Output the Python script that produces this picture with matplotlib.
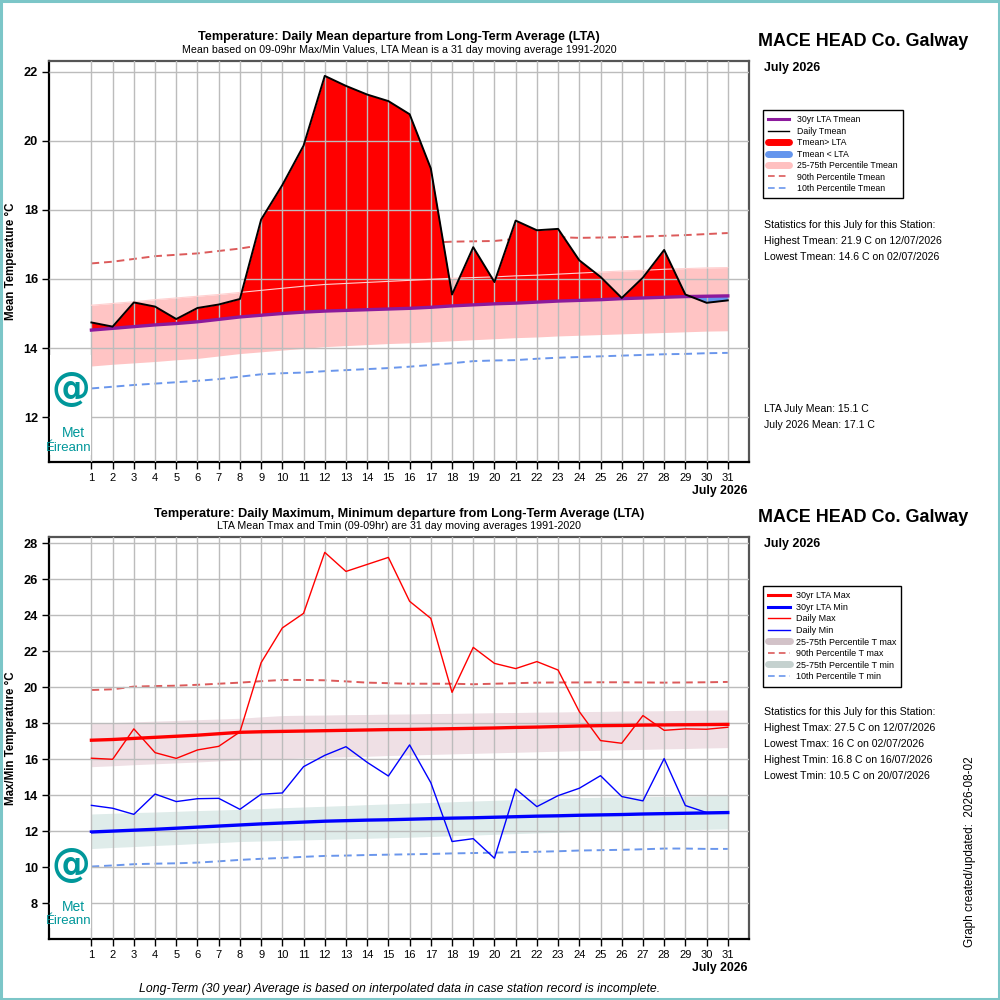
import matplotlib
matplotlib.use("Agg")
import matplotlib.pyplot as plt
from matplotlib.lines import Line2D
from matplotlib.patches import Rectangle
import numpy as np

plt.rcParams['font.family'] = ['Liberation Sans', 'DejaVu Sans']

days = list(range(1, 32))

# ---- Top chart data ----
tmean = [14.74, 14.62, 15.32, 15.20, 14.84, 15.16, 15.26, 15.42, 17.72, 18.72, 19.86, 21.88, 21.59, 21.34, 21.15, 20.77,
         19.20, 15.55, 16.92, 15.91, 17.69, 17.41, 17.45, 16.54, 16.06, 15.45, 16.04, 16.84, 15.55, 15.31, 15.38]
lta_mean = [14.52, 14.57, 14.62, 14.67, 14.71, 14.76, 14.83, 14.90, 14.95, 15.00, 15.04, 15.07, 15.09, 15.11, 15.13, 15.15,
            15.18, 15.22, 15.25, 15.28, 15.30, 15.33, 15.36, 15.38, 15.40, 15.43, 15.45, 15.47, 15.49, 15.50, 15.51]
p25_mean = [13.48, 13.53, 13.57, 13.61, 13.66, 13.70, 13.77, 13.84, 13.89, 13.94, 13.99, 14.04, 14.07, 14.10, 14.13, 14.15,
            14.18, 14.21, 14.24, 14.27, 14.30, 14.32, 14.35, 14.37, 14.39, 14.41, 14.43, 14.45, 14.47, 14.49, 14.50]
p75_mean = [15.24, 15.29, 15.34, 15.40, 15.45, 15.50, 15.55, 15.61, 15.67, 15.73, 15.79, 15.84, 15.87, 15.90, 15.93, 15.96,
            15.99, 16.02, 16.04, 16.06, 16.09, 16.11, 16.14, 16.17, 16.20, 16.23, 16.25, 16.28, 16.30, 16.32, 16.33]
p90_mean = [16.45, 16.50, 16.58, 16.66, 16.70, 16.74, 16.81, 16.88, 16.98, 17.05, 17.08, 17.07, 17.05, 17.04, 17.03, 17.03,
            17.05, 17.08, 17.09, 17.10, 17.16, 17.22, 17.21, 17.19, 17.20, 17.21, 17.23, 17.25, 17.27, 17.30, 17.33]
p10_mean = [12.83, 12.88, 12.93, 12.97, 13.01, 13.05, 13.10, 13.17, 13.24, 13.27, 13.29, 13.33, 13.36, 13.39, 13.42, 13.46,
            13.51, 13.56, 13.62, 13.64, 13.65, 13.69, 13.72, 13.74, 13.76, 13.78, 13.80, 13.82, 13.83, 13.85, 13.86]

# ---- Bottom chart data ----
tmax = [16.06, 16.00, 17.69, 16.37, 16.05, 16.52, 16.72, 17.52, 21.37, 23.30, 24.11, 27.50, 26.44, 26.83, 27.22, 24.78,
        23.83, 19.72, 22.22, 21.33, 21.04, 21.43, 20.96, 18.65, 17.04, 16.89, 18.43, 17.61, 17.69, 17.67, 17.78]
tmin = [13.44, 13.28, 12.94, 14.07, 13.65, 13.81, 13.83, 13.22, 14.06, 14.13, 15.59, 16.22, 16.70, 15.83, 15.07, 16.80,
        14.70, 11.43, 11.59, 10.50, 14.35, 13.37, 13.98, 14.39, 15.09, 13.93, 13.69, 16.04, 13.43, 13.04, 13.00]
lta_max = [17.06, 17.10, 17.16, 17.22, 17.28, 17.34, 17.42, 17.50, 17.53, 17.55, 17.57, 17.59, 17.61, 17.63, 17.65, 17.66,
           17.68, 17.70, 17.72, 17.74, 17.77, 17.79, 17.82, 17.85, 17.87, 17.88, 17.90, 17.91, 17.92, 17.93, 17.94]
lta_min = [11.96, 12.01, 12.06, 12.11, 12.17, 12.23, 12.29, 12.35, 12.41, 12.46, 12.51, 12.56, 12.59, 12.62, 12.64, 12.67,
           12.70, 12.73, 12.75, 12.78, 12.81, 12.84, 12.86, 12.89, 12.91, 12.93, 12.96, 12.98, 13.00, 13.02, 13.04]
p75_max = [18.00, 18.04, 18.08, 18.12, 18.16, 18.20, 18.24, 18.28, 18.36, 18.43, 18.45, 18.46, 18.48, 18.49, 18.51, 18.52,
           18.54, 18.55, 18.57, 18.59, 18.60, 18.62, 18.63, 18.65, 18.66, 18.68, 18.69, 18.70, 18.72, 18.73, 18.74]
p25_max = [15.59, 15.64, 15.70, 15.75, 15.80, 15.85, 15.91, 15.96, 16.00, 16.03, 16.07, 16.10, 16.14, 16.17, 16.21, 16.24,
           16.27, 16.30, 16.33, 16.36, 16.39, 16.42, 16.45, 16.48, 16.50, 16.53, 16.55, 16.58, 16.60, 16.63, 16.65]
p75_min = [12.96, 13.00, 13.04, 13.07, 13.11, 13.15, 13.18, 13.22, 13.26, 13.31, 13.35, 13.39, 13.43, 13.48, 13.52, 13.56,
           13.60, 13.64, 13.68, 13.72, 13.76, 13.80, 13.83, 13.87, 13.89, 13.90, 13.92, 13.94, 13.95, 13.97, 13.98]
p25_min = [11.04, 11.10, 11.15, 11.21, 11.26, 11.32, 11.37, 11.43, 11.46, 11.49, 11.52, 11.55, 11.58, 11.61, 11.64, 11.67,
           11.71, 11.75, 11.79, 11.83, 11.87, 11.91, 11.94, 11.98, 12.00, 12.02, 12.04, 12.07, 12.09, 12.11, 12.13]
p90_max = [19.85, 19.89, 20.04, 20.07, 20.09, 20.14, 20.20, 20.26, 20.34, 20.41, 20.41, 20.39, 20.33, 20.26, 20.23, 20.20,
           20.20, 20.20, 20.17, 20.20, 20.23, 20.26, 20.27, 20.27, 20.28, 20.28, 20.27, 20.26, 20.27, 20.28, 20.30]
p10_min = [10.04, 10.10, 10.17, 10.20, 10.22, 10.26, 10.33, 10.41, 10.47, 10.52, 10.58, 10.63, 10.65, 10.68, 10.70, 10.72,
           10.74, 10.77, 10.79, 10.81, 10.84, 10.86, 10.89, 10.93, 10.95, 10.97, 11.00, 11.04, 11.04, 11.02, 11.02]

station = "MACE HEAD Co. Galway"
month_label = "July 2026"
top_stats = ["Statistics for this July for this Station:",
             "Highest Tmean: 21.9 C on 12/07/2026",
             "Lowest Tmean: 14.6 C on 02/07/2026"]
top_means = ["LTA July Mean: 15.1 C", "July 2026 Mean: 17.1 C"]
bot_stats = ["Statistics for this July for this Station:",
             "Highest Tmax: 27.5 C on 12/07/2026",
             "Lowest Tmax: 16 C on 02/07/2026",
             "Highest Tmin: 16.8 C on 16/07/2026",
             "Lowest Tmin: 10.5 C on 20/07/2026"]

TEAL = '#00979a'
GRID = '#bcbcbc'
DASH_RED = '#dc5a5a'
DASH_BLUE = '#6a96ec'
PURPLE = '#8c1a9c'

fig = plt.figure(figsize=(10, 10), dpi=100)
W = H = 1000.0


def fx(px):
    return px / W


def fy(py):
    return 1 - py / H


def style_axes(ax, ylim, yticks):
    ax.set_xlim(-1, 32)
    ax.set_ylim(*ylim)
    ax.set_xticks(days)
    ax.set_xticklabels([str(d) for d in days], fontsize=8)
    ax.set_yticks(yticks)
    ax.set_yticklabels([str(t) for t in yticks], fontsize=9.2, fontweight='bold')
    ax.grid(True, color=GRID, lw=1.0, zorder=2.5)
    ax.set_axisbelow(False)
    for gl in ax.get_xgridlines() + ax.get_ygridlines():
        gl.set_zorder(2.5)
    ax.tick_params(axis='both', direction='out', length=5, width=1, colors='black', pad=3)
    for s in ['left', 'bottom']:
        ax.spines[s].set_color('black')
        ax.spines[s].set_linewidth(1.6)
    for s in ['top', 'right']:
        ax.spines[s].set_color('#555555')
        ax.spines[s].set_linewidth(1.6)


def add_logo(y_top_px, y_bot_px):
    lax = fig.add_axes([fx(50), fy(y_bot_px), fx(41), (y_bot_px - y_top_px) / H])
    lax.set_facecolor('white')
    lax.set_xticks([])
    lax.set_yticks([])
    for s in lax.spines.values():
        s.set_visible(False)
    lax.text(0.5, 0.66, "@", color=TEAL, fontsize=28, fontweight='bold', ha='center', va='center',
             transform=lax.transAxes, family='DejaVu Sans')
    lax.text(0.58, 0.22, "Met", color=TEAL, fontsize=10, ha='center', va='center',
             transform=lax.transAxes)
    lax.text(0.45, 0.07, "Éireann", color=TEAL, fontsize=9.5, ha='center', va='center',
             transform=lax.transAxes)


# ===================== TOP CHART =====================
ax1 = fig.add_axes([fx(49), fy(462), fx(700), (462 - 60.7) / H])
ax1.fill_between(days, p25_mean, p75_mean, color='#ffc4c4', lw=0, zorder=1)
ax1.plot(days, p90_mean, color=DASH_RED, lw=1.4, ls=(0, (4, 2.5)), zorder=1.5)
ax1.plot(days, p10_mean, color=DASH_BLUE, lw=1.4, ls=(0, (4, 2.5)), zorder=1.5)
tm = np.array(tmean)
lt = np.array(lta_mean)
ax1.fill_between(days, lt, tm, where=tm >= lt, interpolate=True, color='#ff0000', lw=0, zorder=2)
ax1.fill_between(days, lt, tm, where=tm < lt, interpolate=True, color='#6495ed', lw=0, zorder=2)
ax1.plot(days, p75_mean, color='#ffd0d0', lw=0.8, zorder=2.6)
ax1.plot(days, lta_mean, color=PURPLE, lw=2.4, zorder=3)
ax1.plot(days, tmean, color='black', lw=1.4, zorder=3.2)
style_axes(ax1, (10.7, 22.32), list(range(12, 23, 2)))
ax1.set_ylabel("Mean Temperature °C", fontsize=8.3, fontweight='bold')
ax1.yaxis.set_label_coords(-0.046, 0.5)

fig.text(fx(399), fy(37), "Temperature: Daily Mean departure from Long-Term Average (LTA)",
         ha='center', va='center', fontsize=9.2, fontweight='bold')
fig.text(fx(399), fy(50), "Mean based on 09-09hr Max/Min Values, LTA Mean is a 31 day moving average 1991-2020",
         ha='center', va='center', fontsize=7.7)
fig.text(fx(748), fy(491), month_label, ha='right', va='center', fontsize=8.8, fontweight='bold')

add_logo(355, 455)

fig.text(fx(758), fy(42), station, ha='left', va='center', fontsize=12.9, fontweight='bold')
fig.text(fx(764), fy(68), month_label, ha='left', va='center', fontsize=9, fontweight='bold')

h_top = [
    Line2D([], [], color=PURPLE, lw=2.2),
    Line2D([], [], color='black', lw=1),
    Line2D([], [], color='#ff0000', lw=5, solid_capstyle='round'),
    Line2D([], [], color='#6495ed', lw=5, solid_capstyle='round'),
    Line2D([], [], color='#ffc0c0', lw=5, solid_capstyle='round'),
    Line2D([], [], color=DASH_RED, lw=1.2, ls=(0, (4, 2.5))),
    Line2D([], [], color=DASH_BLUE, lw=1.2, ls=(0, (4, 2.5))),
]
l_top = ["30yr LTA Tmean", "Daily Tmean", "Tmean> LTA", "Tmean < LTA", "25-75th Percentile Tmean",
         "90th Percentile Tmean", "10th Percentile Tmean"]
leg1 = fig.legend(h_top, l_top, loc='upper left', bbox_to_anchor=(fx(763), fy(110)),
                  fontsize=6.3, frameon=True, fancybox=False, edgecolor='black', framealpha=1,
                  handlelength=2.4, handletextpad=0.9, labelspacing=0.28, borderpad=0.6, borderaxespad=0)
leg1.get_frame().set_linewidth(1.0)

for i, s in enumerate(top_stats):
    fig.text(fx(764), fy(225 + 16 * i), s, ha='left', va='center', fontsize=7.6)
for i, s in enumerate(top_means):
    fig.text(fx(764), fy(409 + 16 * i), s, ha='left', va='center', fontsize=7.6)

# ===================== BOTTOM CHART =====================
ax2 = fig.add_axes([fx(49), fy(938.7), fx(700), (938.7 - 536.7) / H])
ax2.fill_between(days, p25_max, p75_max, color='#efe0e5', lw=0, zorder=1)
ax2.fill_between(days, p25_min, p75_min, color='#dfecea', lw=0, zorder=1)
ax2.plot(days, p90_max, color=DASH_RED, lw=1.4, ls=(0, (4, 2.5)), zorder=1.5)
ax2.plot(days, p10_min, color=DASH_BLUE, lw=1.4, ls=(0, (4, 2.5)), zorder=1.5)
ax2.plot(days, lta_max, color='#ff0000', lw=2.4, zorder=3)
ax2.plot(days, lta_min, color='#0000ff', lw=2.4, zorder=3)
ax2.plot(days, tmax, color='#ff0000', lw=1.0, zorder=3.2)
ax2.plot(days, tmin, color='#0000ff', lw=1.0, zorder=3.2)
style_axes(ax2, (6.03, 28.37), list(range(8, 29, 2)))
ax2.set_ylabel("Max/Min Temperature °C", fontsize=8.3, fontweight='bold')
ax2.yaxis.set_label_coords(-0.046, 0.5)

fig.text(fx(399), fy(514), "Temperature: Daily Maximum, Minimum departure from Long-Term Average (LTA)",
         ha='center', va='center', fontsize=9.2, fontweight='bold')
fig.text(fx(399), fy(526), "LTA Mean Tmax and Tmin (09-09hr) are 31 day moving averages 1991-2020",
         ha='center', va='center', fontsize=7.7)
fig.text(fx(748), fy(968), month_label, ha='right', va='center', fontsize=8.8, fontweight='bold')

add_logo(833, 928)

fig.text(fx(758), fy(518), station, ha='left', va='center', fontsize=12.9, fontweight='bold')
fig.text(fx(764), fy(544), month_label, ha='left', va='center', fontsize=9, fontweight='bold')

h_bot = [
    Line2D([], [], color='#ff0000', lw=2.2),
    Line2D([], [], color='#0000ff', lw=2.2),
    Line2D([], [], color='#ff0000', lw=1),
    Line2D([], [], color='#0000ff', lw=1),
    Line2D([], [], color='#d2c2c8', lw=5, solid_capstyle='round'),
    Line2D([], [], color=DASH_RED, lw=1.2, ls=(0, (4, 2.5))),
    Line2D([], [], color='#c5d1cf', lw=5, solid_capstyle='round'),
    Line2D([], [], color=DASH_BLUE, lw=1.2, ls=(0, (4, 2.5))),
]
l_bot = ["30yr LTA Max", "30yr LTA Min", "Daily Max", "Daily Min", "25-75th Percentile T max",
         "90th Percentile T max", "25-75th Percentile T min", "10th Percentile T min"]
leg2 = fig.legend(h_bot, l_bot, loc='upper left', bbox_to_anchor=(fx(763), fy(586)),
                  fontsize=6.5, frameon=True, fancybox=False, edgecolor='black', framealpha=1,
                  handlelength=2.4, handletextpad=0.6, labelspacing=0.28, borderpad=0.6, borderaxespad=0)
leg2.get_frame().set_linewidth(1.0)

for i, s in enumerate(bot_stats):
    fig.text(fx(764), fy(712 + 16 * i), s, ha='left', va='center', fontsize=7.6)

fig.text(fx(970), fy(852), "Graph created/updated:  2026-08-02", rotation=90, ha='center', va='center',
         fontsize=8.5)
fig.text(fx(400), fy(989), "Long-Term (30 year) Average is based on interpolated data in case station record is incomplete.",
         ha='center', va='center', fontsize=8.8, style='italic')

fig.add_artist(Rectangle((0.001, 0.001), 0.998, 0.998, transform=fig.transFigure, fill=False,
                         edgecolor='#7cc6c8', lw=2.2))

fig.savefig("out.png", dpi=100)
